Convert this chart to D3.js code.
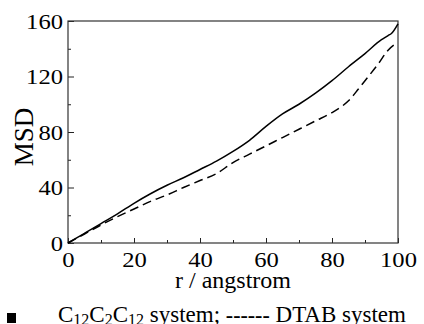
<!DOCTYPE html>
<html>
<head>
<meta charset="utf-8">
<script src="https://cdn.jsdelivr.net/npm/d3@7"></script>
<style>
  body { margin: 0; background: #fff; }
</style>
</head>
<body>
<svg width="424" height="324"></svg>
<script>
// values
var solid_r   = [0, 5, 10, 15, 20, 25, 30, 35, 40, 45, 50, 55, 60, 65, 70, 75, 80, 85, 90, 95, 96, 97, 98, 100];
var solid_msd = [0, 7, 14, 21, 28.6, 35.5, 41.6, 47, 53, 59, 66, 74, 84, 93, 100, 108, 117, 127, 136.5, 146.5, 148, 149.5, 151, 158];

var dash_r   = [0, 5, 10, 15, 20, 25, 30, 35, 40, 45, 50, 55, 60, 65, 70, 75, 80, 83, 85, 88, 90, 94, 97, 99.5];
var dash_msd = [0, 6.5, 13, 19, 24.5, 30, 34.6, 40, 45, 50, 58, 64, 70, 76, 82, 88, 94, 98.5, 102.5, 111, 117, 129, 139, 144];

var x_ticks = [0, 20, 40, 60, 80, 100];
var y_ticks = [0, 40, 80, 120, 160];

var FONT = "Liberation Serif";

var svg = d3.select("svg");
var mLeft = 68, mRight = 398, mTop = 21, mBottom = 243;

var x = d3.scaleLinear().domain([0, 100]).range([mLeft, mRight]);
var y = d3.scaleLinear().domain([0, 160]).range([mBottom, mTop]);

var solid = solid_r.map(function(r, i) { return [r, solid_msd[i]]; });
var dashed = dash_r.map(function(r, i) { return [r, dash_msd[i]]; });

var line = d3.line()
    .x(function(d) { return x(d[0]); })
    .y(function(d) { return y(d[1]); })
    .curve(d3.curveMonotoneX);

// minor ticks first (short), then major
var xMinor = d3.axisBottom(x).tickValues(d3.range(10, 100, 20)).tickSize(-3).tickFormat("");
var yMinor = d3.axisLeft(y).tickValues(d3.range(20, 160, 40)).tickSize(-3).tickFormat("");
svg.append("g").attr("transform", "translate(0," + mBottom + ")").call(xMinor);
svg.append("g").attr("transform", "translate(" + mLeft + ",0)").call(yMinor);

var xAxis = d3.axisBottom(x).tickValues(x_ticks).tickSize(-5).tickPadding(8);
var yAxis = d3.axisLeft(y).tickValues(y_ticks).tickSize(-6).tickPadding(5);

var gx = svg.append("g").attr("transform", "translate(0," + mBottom + ")").call(xAxis);
var gy = svg.append("g").attr("transform", "translate(" + mLeft + ",0)").call(yAxis);

svg.selectAll(".domain").remove();
svg.selectAll(".tick line").attr("stroke", "#222").attr("stroke-width", 1);

// the tick digits in the picture are a bit wider than the font, stretch them
function tickText(sel) {
    sel.style("font-family", FONT)
        .attr("font-size", 22)
        .attr("fill", "#000")
        .attr("lengthAdjust", "spacingAndGlyphs")
        .attr("textLength", function() { return this.textContent.length * 12.3; });
}
gx.selectAll("text").call(tickText).attr("dy", "0.71em");
gy.selectAll("text").call(tickText).attr("dy", "0.34em");

// frame
svg.append("rect")
    .attr("x", mLeft).attr("y", mTop)
    .attr("width", mRight - mLeft).attr("height", mBottom - mTop)
    .attr("fill", "none").attr("stroke", "#333").attr("stroke-width", 1.2);

svg.append("path").datum(solid)
    .attr("d", line)
    .attr("fill", "none").attr("stroke", "#000").attr("stroke-width", 1.5);

svg.append("path").datum(dashed)
    .attr("d", line)
    .attr("fill", "none").attr("stroke", "#000").attr("stroke-width", 1.5)
    .attr("stroke-dasharray", "9,5");

// axis titles
svg.append("text")
    .attr("x", (mLeft + mRight) / 2).attr("y", 288)
    .attr("text-anchor", "middle").attr("font-size", 24)
    .style("font-family", FONT)
    .text("r / angstrom");

svg.append("text")
    .attr("transform", "translate(33," + 137 + ") rotate(-90)")
    .attr("text-anchor", "middle").attr("font-size", 27)
    .style("font-family", FONT)
    .text("MSD");

// legend
svg.append("rect").attr("x", 7).attr("y", 313).attr("width", 9).attr("height", 10).attr("fill", "#000");

var leg = svg.append("text").attr("x", 58).attr("y", 322).attr("font-size", 23)
    .style("font-family", FONT);
leg.append("tspan").text("C");
leg.append("tspan").attr("font-size", 16).attr("dy", 3).text("12");
leg.append("tspan").attr("dy", -3).text("C");
leg.append("tspan").attr("font-size", 16).attr("dy", 3).text("2");
leg.append("tspan").attr("dy", -3).text("C");
leg.append("tspan").attr("font-size", 16).attr("dy", 3).text("12");
leg.append("tspan").attr("dy", -3).text(" system; ");
leg.append("tspan").attr("font-weight", "bold").attr("font-size", 22).text("------");
leg.append("tspan").text(" DTAB system");
</script>
</body>
</html>
